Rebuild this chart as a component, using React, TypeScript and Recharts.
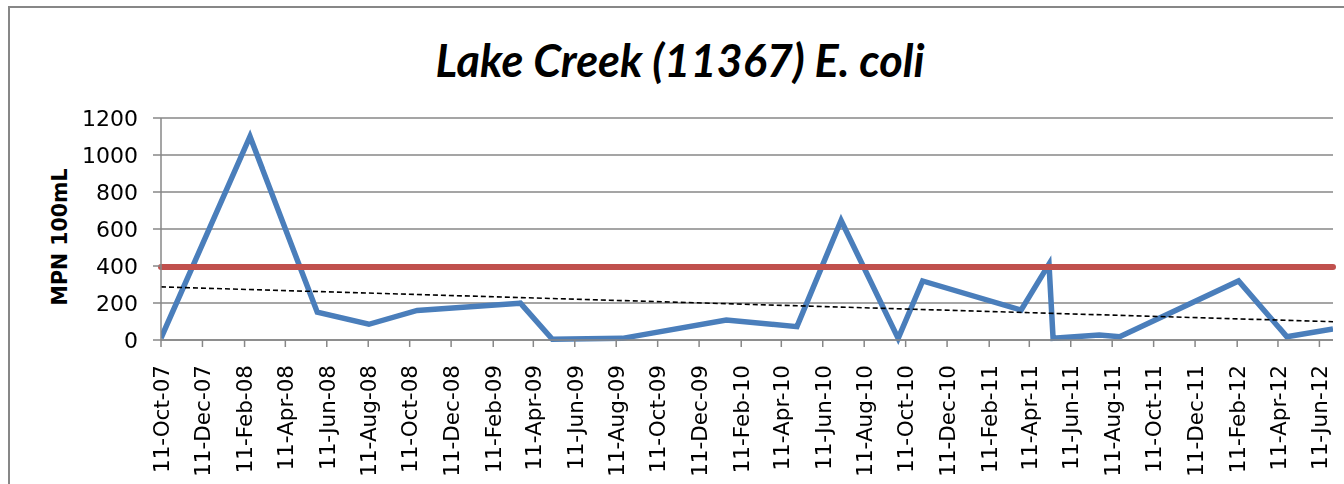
import React from 'react';
import {
  LineChart,
  Line,
  XAxis,
  YAxis,
  CartesianGrid,
  ReferenceLine,
} from 'recharts';

// sample dates and E. coli results (MPN/100mL)
const sampleDates = [
  '2007-10-11', '2008-02-19', '2008-05-28', '2008-08-12', '2008-10-22',
  '2009-03-23', '2009-05-09', '2009-08-20', '2010-01-20', '2010-05-04',
  '2010-07-08', '2010-09-30', '2010-11-05', '2011-03-30', '2011-05-10',
  '2011-05-16', '2011-07-23', '2011-08-22', '2012-02-13', '2012-04-24',
  '2012-07-01',
];
const ecoliValues = [
  10, 1100, 150, 85, 160, 199, 4, 9, 108, 72, 646, 9, 319, 162, 410, 9, 27, 18,
  319, 18, 60,
];

// water quality criterion (red line) and linear trend end points
const criterion = 394;
const trendValues = [287, 99];

const tickLabels = [
  '11-Oct-07', '11-Dec-07', '11-Feb-08', '11-Apr-08', '11-Jun-08', '11-Aug-08',
  '11-Oct-08', '11-Dec-08', '11-Feb-09', '11-Apr-09', '11-Jun-09', '11-Aug-09',
  '11-Oct-09', '11-Dec-09', '11-Feb-10', '11-Apr-10', '11-Jun-10', '11-Aug-10',
  '11-Oct-10', '11-Dec-10', '11-Feb-11', '11-Apr-11', '11-Jun-11', '11-Aug-11',
  '11-Oct-11', '11-Dec-11', '11-Feb-12', '11-Apr-12', '11-Jun-12',
];
const yTicks = [0, 200, 400, 600, 800, 1000, 1200];

const months = ['Jan', 'Feb', 'Mar', 'Apr', 'May', 'Jun', 'Jul', 'Aug', 'Sep', 'Oct', 'Nov', 'Dec'];

const parseLabel = (s: string) => {
  const [d, m, y] = s.split('-');
  return Date.UTC(2000 + Number(y), months.indexOf(m), Number(d));
};
const tickMap: Record<number, string> = {};
const xTicks = tickLabels.map((l) => {
  const t = parseLabel(l);
  tickMap[t] = l;
  return t;
});

const data = sampleDates.map((d, i) => ({ t: Date.parse(d), value: ecoliValues[i] }));
const tStart = data[0].t;
const tEnd = data[data.length - 1].t;

const GRAY = '#878787';

const DateTick = ({ x, y, payload }: any) => (
  <g transform={`translate(${x},${y})`}>
    <text
      transform="rotate(-90)"
      textAnchor="end"
      dy="0.36em"
      fill="#000"
      fontSize={21.5}
      fontFamily="DejaVu Sans"
    >
      {tickMap[payload.value]}
    </text>
  </g>
);

const App: React.FC = () => {
  return (
    <div
      style={{
        position: 'relative',
        width: 1334,
        height: 476,
        overflow: 'hidden',
        borderLeft: `2px solid ${GRAY}`,
        background: '#fff',
      }}
    >
      {/* chart frame top edge */}
      <div
        style={{
          position: 'fixed',
          left: 8,
          top: 6,
          width: 1400,
          height: 2,
          background: GRAY,
        }}
      />
      <div
        style={{
          position: 'absolute',
          left: 0,
          width: 1340,
          top: 26,
          textAlign: 'center',
          fontFamily: 'Lato',
          fontWeight: 'bold',
          fontStyle: 'italic',
          fontSize: 45,
          lineHeight: '52px',
          color: '#000',
        }}
      >
        Lake Creek (11367) E. coli
      </div>
      <div
        style={{
          position: 'absolute',
          left: 40,
          top: 162,
          width: 20,
          height: 134,
          display: 'flex',
          alignItems: 'center',
          justifyContent: 'center',
        }}
      >
        <span
          style={{
            transform: 'rotate(-90deg)',
            whiteSpace: 'nowrap',
            fontFamily: 'DejaVu Sans',
            fontWeight: 'bold',
            fontSize: 20.5,
          }}
        >
          MPN 100mL
        </span>
      </div>
      <LineChart
        width={1334}
        height={476}
        data={data}
        margin={{ top: 110, right: 11, left: 0, bottom: 0 }}
      >
        <CartesianGrid horizontal vertical={false} stroke={GRAY} strokeWidth={1.5} />
        <XAxis
          dataKey="t"
          type="number"
          domain={[tStart, tEnd]}
          ticks={xTicks}
          interval={0}
          allowDataOverflow
          height={144}
          tickSize={7}
          tickMargin={18}
          tick={<DateTick />}
          stroke={GRAY}
          strokeWidth={1.5}
          tickLine={{ stroke: GRAY, strokeWidth: 1.5 }}
        />
        <YAxis
          domain={[0, 1200]}
          ticks={yTicks}
          width={151}
          tickSize={8}
          tickMargin={15}
          stroke={GRAY}
          strokeWidth={1.5}
          tick={{ fill: '#000', fontSize: 22, fontFamily: 'DejaVu Sans' }}
          tickLine={{ stroke: GRAY, strokeWidth: 1.5 }}
        />
        <Line
          type="linear"
          dataKey="value"
          stroke="#4A7EBB"
          strokeWidth={5.5}
          dot={false}
          activeDot={false}
          isAnimationActive={false}
        />
        <ReferenceLine
          y={criterion}
          stroke="#C0504D"
          strokeWidth={6}
          strokeLinecap="round"
        />
        <ReferenceLine
          segment={[
            { x: tStart, y: trendValues[0] },
            { x: tEnd, y: trendValues[1] },
          ]}
          stroke="#000"
          strokeWidth={1.6}
          strokeDasharray="5 3"
        />
      </LineChart>
    </div>
  );
};

export default App;
